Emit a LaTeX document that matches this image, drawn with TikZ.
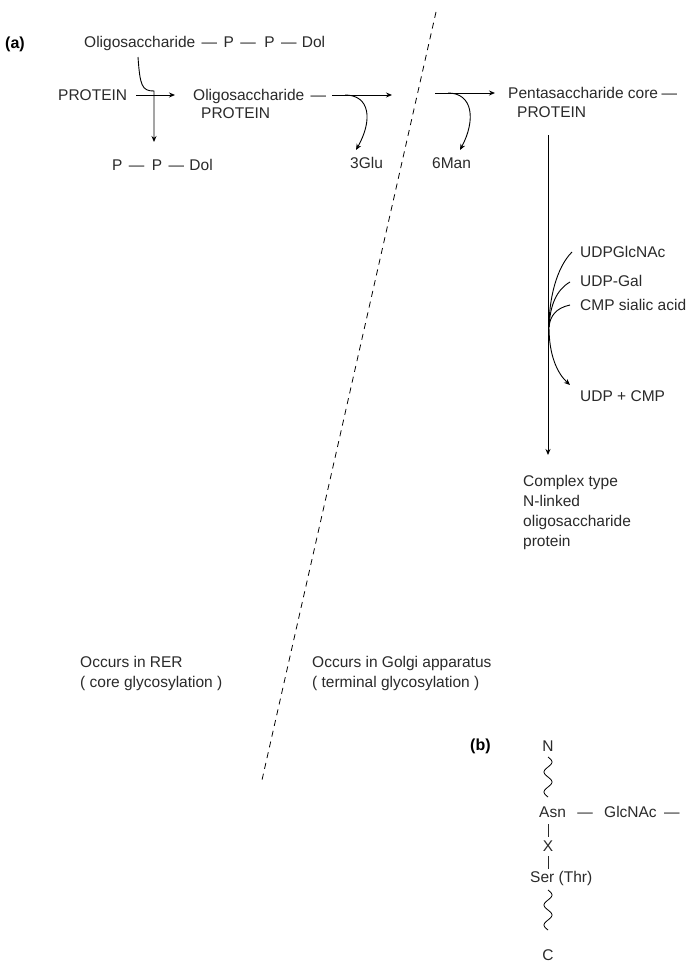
\documentclass[tikz,border=0pt]{standalone}
\usepackage{fontspec}
\setmainfont{Liberation Sans}
\usetikzlibrary{arrows.meta}
\definecolor{ink}{HTML}{2A2A2A}
\begin{document}
\begin{tikzpicture}[x=1pt,y=-1pt,
  txt/.style={inner sep=0pt,anchor=base west,font=\fontsize{15.5}{20}\selectfont,text=ink},
  lbl/.style={inner sep=0pt,anchor=base west,font=\fontsize{16}{20}\selectfont\bfseries,text=black},
  ctr/.style={inner sep=0pt,anchor=base,font=\fontsize{15.5}{20}\selectfont,text=ink},
  arr/.style={line width=0.9pt,draw=black,-{Stealth[length=6pt,width=5pt]}},
  ln/.style={line width=0.9pt,draw=black},
  wave/.style={line width=0.8pt,draw=black}]
\useasboundingbox[fill=white] (0,0) rectangle (686,977);

% dashed divider
\coordinate (dtop) at (436,12);
\coordinate (dbot) at (262,780);
\draw[line width=0.8pt,dash pattern=on 6pt off 5pt] (dtop) -- (dbot);

% (a)
\node[lbl] (la) at (5,48) {(a)};
\node[txt] (oli1) at (84,47) {Oligosaccharide};
\node[txt] (d11) at ([xshift=6pt]oli1.base east) {—};
\node[txt] (p11) at ([xshift=6pt]d11.base east) {P};
\node[txt] (d12) at ([xshift=6pt]p11.base east) {—};
\node[txt] (p12) at ([xshift=8pt]d12.base east) {P};
\node[txt] (d13) at ([xshift=6pt]p12.base east) {—};
\node[txt] (dol1) at ([xshift=5pt]d13.base east) {Dol};

\node[txt] (prot1) at (58,100) {PROTEIN};
\node[txt] (oligo) at (193,100) {Oligosaccharide};
\node[txt] (d21) at ([xshift=6pt]oligo.base east) {—};
\node[txt] (oligop) at (201,118) {PROTEIN};

\node[txt] (p31) at (112,170) {P};
\node[txt] (d31) at ([xshift=6pt]p31.base east) {—};
\node[txt] (p32) at ([xshift=7pt]d31.base east) {P};
\node[txt] (d32) at ([xshift=6pt]p32.base east) {—};
\node[txt] (dol3) at ([xshift=5pt]d32.base east) {Dol};

\coordinate (a1s) at (136,95);
\coordinate (a1e) at (175,95);
\draw[arr] (a1s) -- (a1e);
\coordinate (c1s) at (138,57);
\coordinate (c1m) at (154,91);
\coordinate (c1e) at (154,142);
\draw[arr] (c1s) .. controls (140,86) and (142,91) .. (c1m) -- (c1e);

% second step
\coordinate (a2s) at (332,95);
\coordinate (a2e) at (392,95);
\draw[arr] (a2s) -- (a2e);
\coordinate (c2s) at (345,95);
\coordinate (c2e) at (356,150);
\draw[arr] (c2s) .. controls (370,95) and (373,120) .. (c2e);
\node[txt] (glu) at (350,168) {3Glu};

% third step
\coordinate (a3s) at (435,93);
\coordinate (a3e) at (495,93);
\draw[arr] (a3s) -- (a3e);
\coordinate (c3s) at (448,93);
\coordinate (c3e) at (460,150);
\draw[arr] (c3s) .. controls (473,93) and (476,120) .. (c3e);
\node[txt] (man) at (432,168) {6Man};

\node[txt] (penta) at (508,98) {Pentasaccharide core};
\node[txt] (d41) at ([xshift=3pt]penta.base east) {—};
\node[txt] (pentap) at (517,117) {PROTEIN};

% vertical
\coordinate (vs) at (548,135);
\coordinate (ve) at (548,455);
\draw[arr] (vs) -- (ve);

\node[txt] (udpg) at (580,257) {UDPGlcNAc};
\node[txt] (udpgal) at (580,286) {UDP-Gal};
\node[txt] (cmp) at (580,310) {CMP sialic acid};
\node[txt] (udpcmp) at (580,401) {UDP + CMP};

\coordinate (j) at (549,327);
\coordinate (u1) at (572,252);
\coordinate (u2) at (570,282);
\coordinate (u3) at (570,305);
\coordinate (uo) at (570,385);
\draw[ln] (u1) .. controls (556,268) and (549,300) .. (j);
\draw[ln] (u2) .. controls (556,290) and (550,306) .. (j);
\draw[ln] (u3) .. controls (556,308) and (550,316) .. (j);
\draw[arr] (j) .. controls (549,355) and (557,373) .. (uo);

\node[txt,align=left,anchor=north west] (complex) at (523,475) {Complex type\\N-linked\\oligosaccharide\\protein};

\node[txt,align=left,anchor=north west] (rer) at (80,656) {Occurs in RER\\( core glycosylation )};
\node[txt,align=left,anchor=north west] (golgi) at (312,656) {Occurs in Golgi apparatus\\( terminal glycosylation )};

% (b)
\node[lbl] (lb) at (470,750) {(b)};
\node[ctr] (N) at (548,751) {N};
\draw[wave] plot[smooth,domain=0:40,samples=41] ({548+4*sin(\x*18)},{757+\x});
\node[txt] (asn) at (539,817) {Asn};
\node[txt] (d51) at ([xshift=11pt]asn.base east) {—};
\node[txt] (glc) at ([xshift=11pt]d51.base east) {GlcNAc};
\node[txt] (d52) at ([xshift=7pt]glc.base east) {—};
\coordinate (b1s) at (548,824);
\coordinate (b1e) at (548,837);
\draw[line width=0.7pt,draw=ink] (b1s) -- (b1e);
\node[ctr] (X) at (548,851) {X};
\coordinate (b2s) at (548,856);
\coordinate (b2e) at (548,869);
\draw[line width=0.7pt,draw=ink] (b2s) -- (b2e);
\node[txt] (ser) at (530,882) {Ser (Thr)};
\draw[wave] plot[smooth,domain=0:40,samples=41] ({548+4*sin(\x*18)},{890+\x});
\node[ctr] (C) at (548,960) {C};
\end{tikzpicture}
\end{document}
